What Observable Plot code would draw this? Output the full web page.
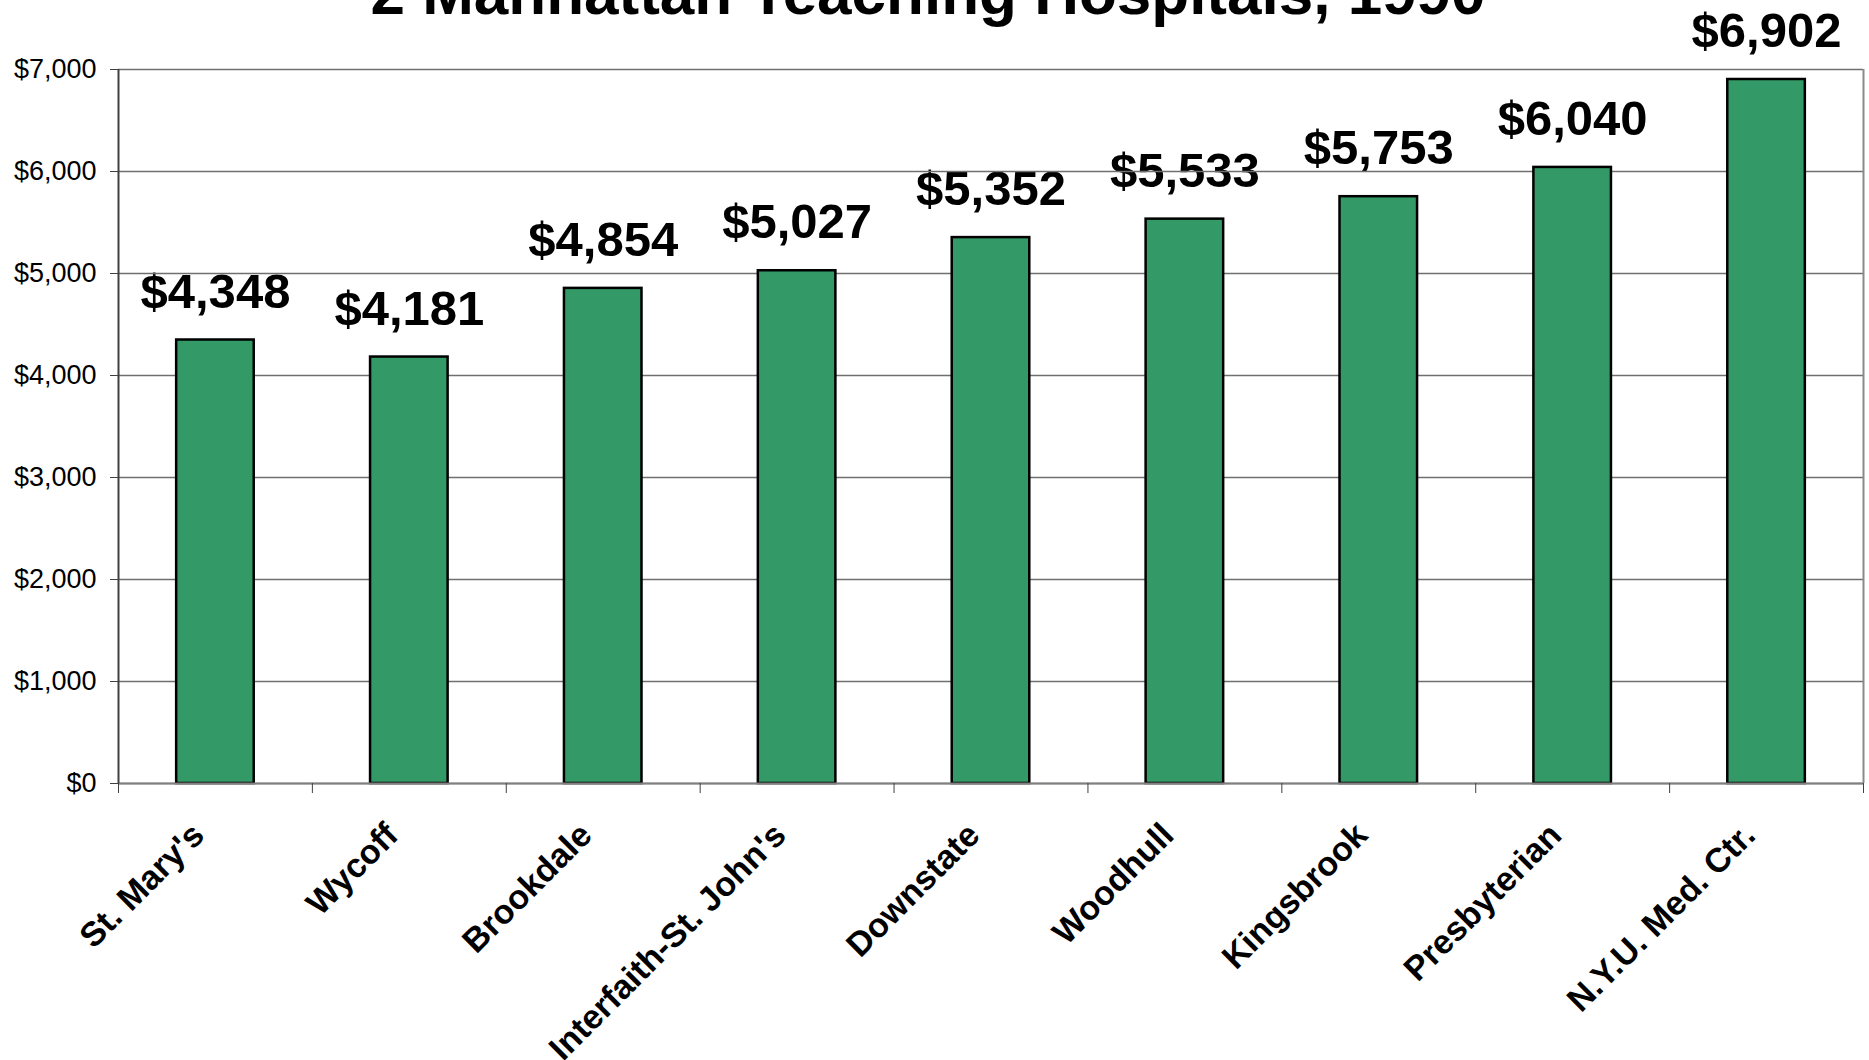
<!DOCTYPE html>
<html>
<head>
<meta charset="utf-8">
<script src="https://cdn.jsdelivr.net/npm/d3@7"></script>
<script src="https://cdn.jsdelivr.net/npm/@observablehq/plot@0.6"></script>
<style>
html, body { margin: 0; padding: 0; background: #fff; overflow: hidden; }
#wrap { position: relative; width: 1869px; height: 1060px; }
#title { position: absolute; left: 0; top: -38px; width: 1856px; text-align: center;
  font: bold 62px/62px "Liberation Sans", Arial, sans-serif; white-space: nowrap; color: #000; z-index: 2; }
#chart { position: absolute; left: 0; top: 0; }
</style>
</head>
<body>
<div id="wrap">
  <div id="title">2 Manhattan Teaching Hospitals, 1990</div>
  <div id="chart"></div>
</div>
<script>
const hospitals = ["St. Mary's", "Wycoff", "Brookdale", "Interfaith-St. John's", "Downstate", "Woodhull", "Kingsbrook", "Presbyterian", "N.Y.U. Med. Ctr."];
const costs = [4348, 4181, 4854, 5027, 5352, 5533, 5753, 6040, 6902];
const yTicks = [0, 1000, 2000, 3000, 4000, 5000, 6000, 7000];

const data = hospitals.map((h, i) => ({hospital: h, cost: costs[i]}));
const fmt = d3.format("$,");

const W = 1869, H = 1060, mL = 118, mR = 6, mT = 69, mB = 277;
const step = (W - mL - mR) / hospitals.length;
const font = '"Liberation Sans", Arial, sans-serif';

const chart = Plot.plot({
  width: W, height: H,
  marginLeft: mL, marginRight: mR, marginTop: mT, marginBottom: mB,
  style: {fontFamily: font, background: "#fff", color: "#000", overflow: "visible"},
  x: {domain: hospitals, paddingInner: 0.6, paddingOuter: 0.3, round: false, label: null},
  y: {domain: [0, 7000], label: null},
  marks: [
    Plot.text(data, {x: "hospital", y: "cost", text: d => fmt(d.cost), fontSize: 49, fontWeight: "bold",
      lineAnchor: "middle", dy: -48, fill: "#000"}),
    Plot.gridY(yTicks, {stroke: "#6f6f6f", strokeOpacity: 1, strokeWidth: 1.5}),
    Plot.ruleX([hospitals[hospitals.length - 1]], {dx: step / 2, stroke: "#8a8a8a", strokeWidth: 2}),
    Plot.barY(data, {x: "hospital", y: "cost", fill: "#339966", stroke: "#000", strokeWidth: 2.5}),
    Plot.ruleY([0], {stroke: "#808080", strokeWidth: 2}),
    Plot.ruleX([hospitals[0]], {dx: -step / 2, stroke: "#404040", strokeWidth: 2}),
    Plot.axisY(yTicks, {tickFormat: fmt, tickSize: 8, tickPadding: 14, fontSize: 27, stroke: "#404040", fill: "#000", label: null}),
    Plot.axisX(hospitals, {tickSize: 10, tickFormat: () => "", dx: -step / 2, stroke: "#404040", label: null}),
    Plot.axisX([hospitals[hospitals.length - 1]], {tickSize: 10, tickFormat: () => "", dx: step / 2, stroke: "#404040", label: null}),
    Plot.axisX(hospitals, {tickSize: 0, tickRotate: -45, tickPadding: 46, dx: -17, fontSize: 34, fontWeight: "bold", fill: "#000", label: null})
  ]
});
document.getElementById("chart").appendChild(chart);
</script>
</body>
</html>
